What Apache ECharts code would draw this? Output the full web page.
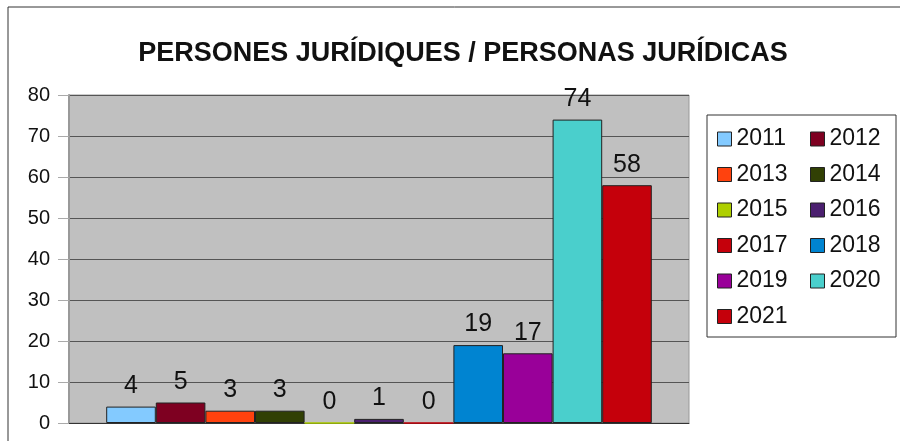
<!DOCTYPE html>
<html>
<head>
<meta charset="utf-8">
<title>ECharts</title>
<script type="text/javascript" src="https://cdn.jsdelivr.net/npm/echarts@6/dist/echarts.min.js"></script>
<style>
	html, body { margin: 0; padding: 0; background: #fff; }
	#main { width: 900px; height: 441px; }
</style>
</head>
<body>
<div id="main"></div>
<script type="text/javascript">
	// data
	var years = ['2011', '2012', '2013', '2014', '2015', '2016', '2017', '2018', '2019', '2020', '2021'];
	var values = [4, 5, 3, 3, 0, 1, 0, 19, 17, 74, 58];
	var colors = ['#83caff', '#7e0021', '#ff420e', '#314004', '#aecf00', '#4b1f6f', '#c5000b', '#0084d1', '#990099', '#4acfcc', '#c5000b'];
	var yTicks = [0, 10, 20, 30, 40, 50, 60, 70, 80];

	var font = 'Liberation Sans, Arial, sans-serif';
	var myChart = echarts.init(document.getElementById('main'));

	var series = [];
	for (var i = 0; i < years.length; i++) {
		var noEdge = values[i] === 0;
		series.push({
			name: years[i],
			type: 'bar',
			data: [values[i]],
			barGap: '0%',
			barCategoryGap: '12%',
			itemStyle: {
				color: colors[i],
				borderColor: noEdge ? colors[i] : '#222',
				borderWidth: 1
			},
			label: {
				show: true,
				position: 'top',
				distance: 8,
				fontFamily: font,
				fontSize: 25,
				color: '#111'
			}
		});
	}

	var legendLeft = years.filter(function (y, i) { return i % 2 === 0; });
	var legendRight = years.filter(function (y, i) { return i % 2 === 1; });
	var legendBase = {
		orient: 'vertical',
		top: 122,
		itemWidth: 14,
		itemHeight: 14,
		itemGap: 11.5,
		icon: 'rect',
		textStyle: { fontFamily: font, fontSize: 23, lineHeight: 24, color: '#111' },
		itemStyle: { borderColor: '#222', borderWidth: 1 }
	};

	var option = {
		animation: false,
		title: {
			text: 'PERSONES JURÍDIQUES / PERSONAS JURÍDICAS',
			left: 458,
			textAlign: 'center',
			top: 35,
			textStyle: { fontFamily: font, fontSize: 27, fontWeight: 'bold', color: '#111' }
		},
		graphic: [
			{ type: 'rect', shape: { x: 8, y: 7, width: 900, height: 440 }, style: { fill: null, stroke: '#333', lineWidth: 1 }, silent: true },
			{ type: 'rect', shape: { x: 707, y: 115, width: 189, height: 222 }, style: { fill: '#fff', stroke: '#333', lineWidth: 1 }, z: -1, silent: true }
		],
		legend: [
			Object.assign({}, legendBase, { left: 712, data: legendLeft }),
			Object.assign({}, legendBase, { left: 805, data: legendRight })
		],
		grid: {
			left: 69, right: 211, top: 95, bottom: 18,
			show: true,
			backgroundColor: '#c0c0c0',
			borderColor: '#999',
			borderWidth: 1
		},
		xAxis: {
			type: 'category',
			data: [''],
			axisLine: { show: true, lineStyle: { color: '#333' } },
			axisTick: { show: false },
			axisLabel: { show: false }
		},
		yAxis: {
			type: 'value',
			min: yTicks[0],
			max: yTicks[yTicks.length - 1],
			interval: 10,
			axisLine: { show: true, lineStyle: { color: '#999', width: 2 } },
			axisTick: { show: true, inside: false, length: 11, lineStyle: { color: '#aaa' } },
			axisLabel: { fontFamily: font, fontSize: 20, color: '#111', margin: 19 },
			splitLine: { show: true, lineStyle: { color: '#555', width: 1 } }
		},
		series: series
	};

	myChart.setOption(option);
</script>
</body>
</html>
